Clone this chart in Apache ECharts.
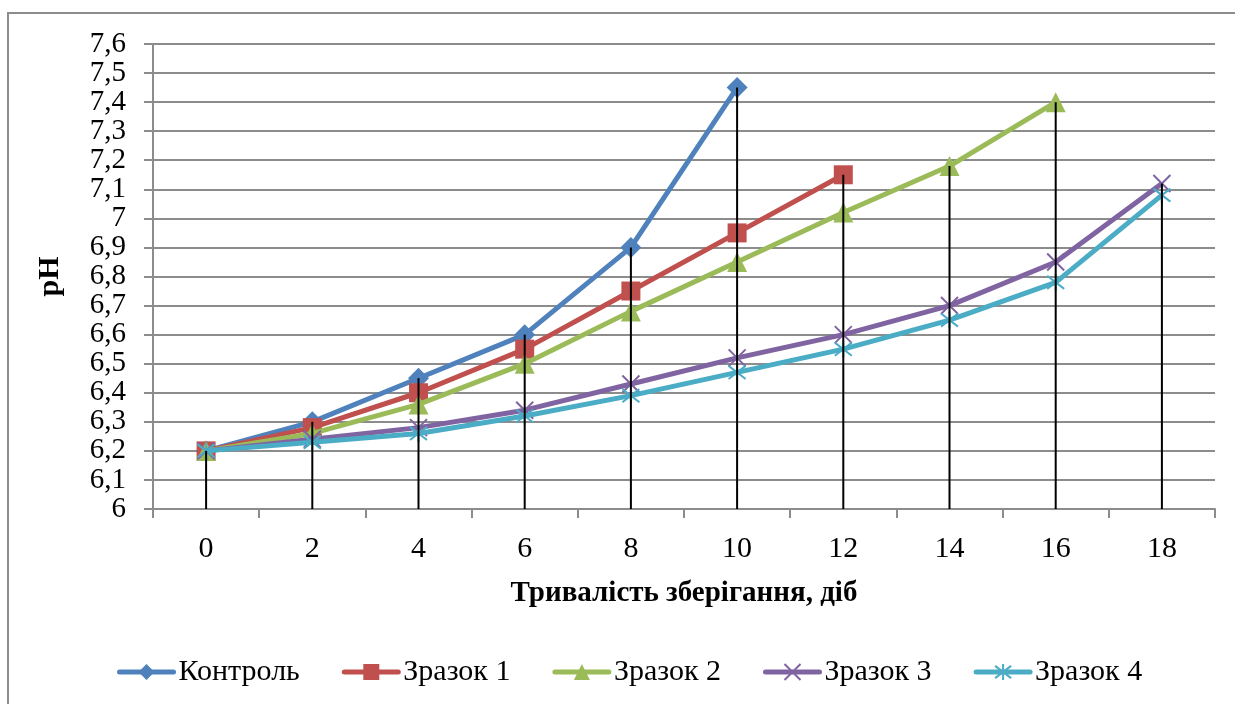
<!DOCTYPE html>
<html>
<head>
<meta charset="utf-8">
<script src="https://cdn.jsdelivr.net/npm/echarts@6/dist/echarts.min.js"></script>
<style>
html,body{margin:0;padding:0;background:#fff;}
#chart{width:1235px;height:704px;}
</style>
</head>
<body>
<div id="chart"></div>
<script>
const categories = ['0','2','4','6','8','10','12','14','16','18'];
const seriesNames = ['Контроль','Зразок 1','Зразок 2','Зразок 3','Зразок 4'];
const kontrol = [6.2, 6.3, 6.45, 6.6, 6.9, 7.45];
const zrazok1 = [6.2, 6.28, 6.4, 6.55, 6.75, 6.95, 7.15];
const zrazok2 = [6.2, 6.26, 6.36, 6.5, 6.68, 6.85, 7.02, 7.18, 7.4];
const zrazok3 = [6.2, 6.24, 6.28, 6.34, 6.43, 6.52, 6.6, 6.7, 6.85, 7.12];
const zrazok4 = [6.2, 6.23, 6.26, 6.32, 6.39, 6.47, 6.55, 6.65, 6.78, 7.08];
const yTicks = [6, 6.1, 6.2, 6.3, 6.4, 6.5, 6.6, 6.7, 6.8, 6.9, 7, 7.1, 7.2, 7.3, 7.4, 7.5, 7.6];

const allData = [kontrol, zrazok1, zrazok2, zrazok3, zrazok4];
const colors = ['#4F81BD','#C0504D','#9BBB59','#8064A2','#4BACC6'];
const symbols = [
  'diamond',
  'rect',
  'triangle',
  'path://M0,0L10,10M10,0L0,10',
  'path://M0,0L10,10M10,0L0,10M5,-1.5L5,11.5'
];
const symbolSizes = [21, 19, 20, 17, 17];
const font = '"Liberation Serif","Times New Roman",serif';

const maxVals = categories.map((c, i) => {
  const vs = allData.map(a => a[i]).filter(v => v !== undefined);
  return Math.max.apply(null, vs);
});

const lineSeries = allData.map((d, k) => {
  const stroked = k >= 3;
  return {
    name: seriesNames[k],
    type: 'line',
    data: d,
    symbol: symbols[k],
    symbolSize: symbolSizes[k],
    showAllSymbol: true,
    lineStyle: { color: colors[k], width: 5 },
    itemStyle: stroked
      ? { color: colors[k], borderColor: colors[k], borderWidth: 2 }
      : { color: colors[k], borderWidth: 0 },
    z: 2 + k,
    animation: false
  };
});

const dropSeries = {
  type: 'custom',
  name: 'drop',
  data: maxVals.map((v, i) => [i, v]),
  renderItem: function (params, api) {
    const top = api.coord([api.value(0), api.value(1)]);
    const bottom = api.coord([api.value(0), yTicks[0]]);
    return {
      type: 'line',
      shape: { x1: top[0], y1: top[1], x2: bottom[0], y2: bottom[1] },
      style: { stroke: '#000', lineWidth: 2 }
    };
  },
  z: 10,
  silent: true,
  animation: false
};

const chart = echarts.init(document.getElementById('chart'), null, { renderer: 'canvas' });
chart.setOption({
  animation: false,
  backgroundColor: '#fff',
  textStyle: { fontFamily: font, color: '#000' },
  graphic: [{
    type: 'rect',
    shape: { x: 8, y: 13, width: 1260, height: 720 },
    style: { fill: 'none', stroke: '#8c8c8c', lineWidth: 2 },
    silent: true,
    z: -10
  }],
  grid: { left: 153, top: 44, right: 20, bottom: 195, containLabel: false },
  legend: {
    data: seriesNames,
    bottom: 12,
    left: 112,
    itemWidth: 54,
    itemHeight: 20,
    itemGap: 42,
    lineStyle: { width: 5, cap: 'round' },
    textStyle: { fontFamily: font, fontSize: 30, color: '#000' }
  },
  xAxis: {
    type: 'category',
    data: categories,
    boundaryGap: true,
    name: 'Тривалість зберігання, діб',
    nameLocation: 'middle',
    nameGap: 70,
    nameTextStyle: { fontFamily: font, fontSize: 29, fontWeight: 'bold', color: '#000' },
    axisLine: { lineStyle: { color: '#8c8c8c', width: 2 } },
    axisTick: { show: true, inside: false, length: 9, interval: 0, lineStyle: { color: '#8c8c8c', width: 2 } },
    axisLabel: { fontFamily: font, fontSize: 30, color: '#000', margin: 25, interval: 0 },
    splitLine: { show: false }
  },
  yAxis: {
    type: 'value',
    min: 6,
    max: 7.6,
    interval: 0.1,
    name: 'pH',
    nameLocation: 'middle',
    nameGap: 88,
    nameTextStyle: { fontFamily: font, fontSize: 30, fontWeight: 'bold', color: '#000' },
    axisLine: { show: true, lineStyle: { color: '#8c8c8c', width: 2 } },
    axisTick: { show: true, inside: false, length: 9, lineStyle: { color: '#8c8c8c', width: 2 } },
    axisLabel: {
      fontFamily: font, fontSize: 29, color: '#000', margin: 27,
      showMinLabel: true, showMaxLabel: true, hideOverlap: false,
      formatter: function (v) { return String(Number(v.toFixed(1))).replace('.', ','); }
    },
    splitLine: { show: true, lineStyle: { color: '#8c8c8c', width: 2 } }
  },
  series: lineSeries.concat([dropSeries])
});
</script>
</body>
</html>
